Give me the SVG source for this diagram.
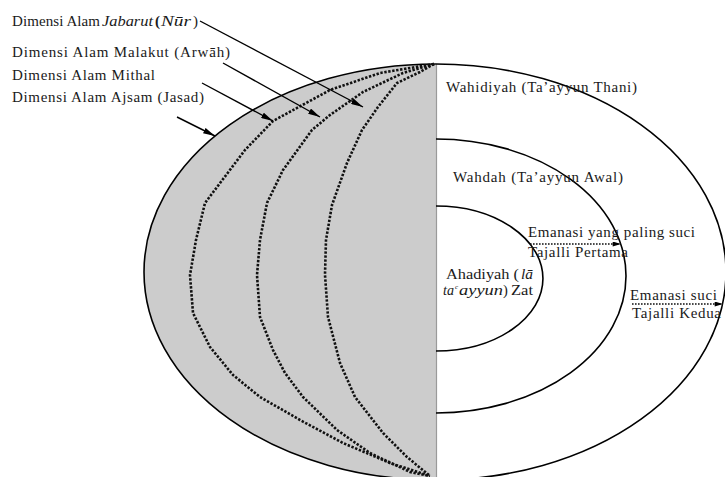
<svg xmlns="http://www.w3.org/2000/svg" width="725" height="477" viewBox="0 0 725 477">
<style>
.t{font-family:"Liberation Serif","Times New Roman",serif;font-size:15px;fill:#1a1a1a}
.s{font-size:14.5px}
.i{font-style:italic}
.solid{fill:none;stroke:#000;stroke-width:1.6}
.dots{fill:none;stroke:#111;stroke-width:2.6;stroke-dasharray:2.4 1.6;stroke-linejoin:round}
.arr{fill:none;stroke:#000;stroke-width:1.4}
.darr{fill:none;stroke:#111;stroke-width:1.6;stroke-dasharray:1.6 1.4}
</style>
<defs>
<marker id="ah" viewBox="0 0 12 6" refX="12" refY="3" markerWidth="12" markerHeight="6" markerUnits="userSpaceOnUse" orient="auto">
<path d="M0,0 L12,3 L0,6 z" fill="#000"/>
</marker>
<marker id="ah2" viewBox="0 0 10 6" refX="10" refY="3" markerWidth="10" markerHeight="5" markerUnits="userSpaceOnUse" orient="auto">
<path d="M0,0 L10,3 L0,6 z" fill="#000"/>
</marker>
</defs>
<rect width="725" height="477" fill="#fff"/>

<g id="alam-dimensions">
<path d="M436,64 A292,208 0 0 0 436,480 Z" fill="#cccccc" stroke="none"/>
<path d="M436,64 A292,208 0 0 0 436,480" class="solid"/>
<line x1="436.5" y1="64" x2="436.5" y2="477" stroke="#9a9a9a" stroke-width="1.2"/>
<polyline class="dots" points="434,64 380,73 330,90 273,121 245,150 205,203 196,240 190,275 193,313 210,347 233,375 260,397 300,420 343,443 390,463 430,476"/>
<polyline class="dots" points="434,64 403,73 363,92 330,115 312,130 283,170 267,203 260,240 257,275 260,317 273,350 285,373 303,397 337,430 370,453 410,472 430,476"/>
<polyline class="dots" points="434,64 420,72 397,83 378,107 362,130 347,163 332,205 326,240 325,275 328,317 340,363 355,397 383,433 407,457 430,476"/>
</g>

<g id="wahidiyah">
<path d="M436,64 A290,208 0 0 1 436,480" class="solid"/>
<text class="t" x="446" y="92" textLength="191" lengthAdjust="spacing">Wahidiyah (Ta’ayyun Thani)</text>
</g>

<g id="wahdah">
<path d="M436,139 A190,137 0 0 1 436,413" class="solid"/>
<text class="t" x="453" y="182" textLength="170" lengthAdjust="spacing">Wahdah (Ta’ayyun Awal)</text>
</g>

<g id="ahadiyah">
<path d="M436,206 A107,72.5 0 0 1 436,351" class="solid"/>
<text class="t s" x="446" y="279" textLength="73" lengthAdjust="spacingAndGlyphs">Ahadiyah (</text>
<text class="t s i" x="521" y="279" textLength="12" lengthAdjust="spacingAndGlyphs">lā</text>
<text class="t s i" x="443" y="295" textLength="11" lengthAdjust="spacingAndGlyphs">ta</text>
<text class="t i" x="455" y="289" style="font-size:7px">c</text>
<text class="t s i" x="459" y="295" textLength="44" lengthAdjust="spacingAndGlyphs">ayyun</text>
<text class="t s" x="503" y="295">)</text>
<text class="t s" x="511" y="295" textLength="22" lengthAdjust="spacingAndGlyphs">Zat</text>
</g>

<g id="label-jabarut">
<text class="t" x="12" y="26" textLength="88" lengthAdjust="spacing">Dimensi Alam</text>
<text class="t i" x="102" y="26" textLength="51" lengthAdjust="spacingAndGlyphs">Jabarut</text>
<text class="t" x="155" y="26" style="font-weight:bold">(</text>
<text class="t i" x="161" y="26" textLength="30" lengthAdjust="spacingAndGlyphs">Nūr</text>
<text class="t" x="193" y="26">)</text>
</g>
<g id="label-malakut">
<text class="t" x="12" y="57" textLength="218" lengthAdjust="spacing">Dimensi Alam Malakut  (Arwāh)</text>
</g>
<g id="label-mithal">
<text class="t" x="12" y="80" textLength="143" lengthAdjust="spacing">Dimensi Alam Mithal</text>
</g>
<g id="label-ajsam">
<text class="t" x="12" y="102" textLength="192" lengthAdjust="spacing">Dimensi Alam Ajsam (Jasad)</text>
</g>

<g id="label-tajalli-pertama">
<text class="t" x="528" y="237" textLength="167" lengthAdjust="spacing">Emanasi yang paling suci</text>
<text class="t" x="528" y="257" textLength="100" lengthAdjust="spacing">Tajalli Pertama</text>
</g>
<g id="label-tajalli-kedua">
<text class="t" x="630" y="300" textLength="87" lengthAdjust="spacing">Emanasi suci</text>
<text class="t" x="632" y="318" textLength="89" lengthAdjust="spacing">Tajalli Kedua</text>
</g>

<g id="connectors">
<line class="arr" x1="200" y1="21" x2="363" y2="107" marker-end="url(#ah)"/>
<line class="arr" x1="223" y1="63" x2="320" y2="117" marker-end="url(#ah)"/>
<line class="arr" x1="202" y1="83" x2="273" y2="121" marker-end="url(#ah)"/>
<line class="arr" x1="177" y1="117" x2="215" y2="136" marker-end="url(#ah)"/>
<line class="darr" x1="530" y1="244" x2="621" y2="244" marker-end="url(#ah2)"/>
<line class="darr" x1="632" y1="304" x2="723" y2="304" marker-end="url(#ah2)"/>
</g>
</svg>
